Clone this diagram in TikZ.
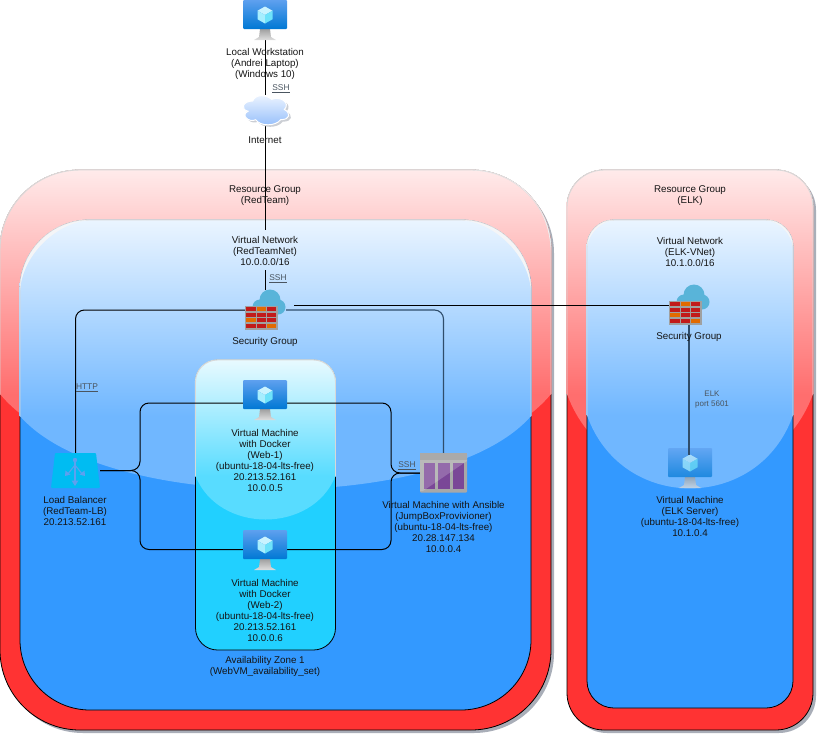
\documentclass[tikz,border=0pt]{standalone}
\usepackage{fontspec}
\setmainfont{Liberation Sans}
\definecolor{redbox}{HTML}{FF3333}
\definecolor{bluebox}{HTML}{3399FF}
\definecolor{cyanbox}{HTML}{21D0FF}
\definecolor{redtop}{HTML}{FFEBEB}
\definecolor{redbot}{HTML}{FF6E6E}
\definecolor{bluetop}{HTML}{EBF5FF}
\definecolor{bluebot}{HTML}{70B7FF}
\definecolor{cyantop}{HTML}{E9FAFF}
\definecolor{cyanbot}{HTML}{58DCFF}
\definecolor{rimcol}{HTML}{D8D8D8}
\definecolor{crescent}{HTML}{F4F5F7}
\definecolor{shadowcol}{HTML}{A9AEB8}
\definecolor{labelcol}{HTML}{141414}
\definecolor{protocol}{HTML}{4A5560}
\definecolor{veiled}{HTML}{2F4D6B}
\definecolor{brickred}{HTML}{C21A1A}
\definecolor{brickor}{HTML}{E26A00}
\definecolor{wallgrey}{HTML}{A0A0A0}
\definecolor{cloudblue}{HTML}{59B4D9}
\definecolor{screentop}{HTML}{5EA0EF}
\definecolor{screenbot}{HTML}{0078D4}
\definecolor{cubetop}{HTML}{C9F3FF}
\definecolor{cubeleft}{HTML}{A6EEFF}
\definecolor{cuberight}{HTML}{6EE2FA}
\definecolor{lbfill}{HTML}{00BCF2}
\definecolor{lbarrow}{HTML}{5EA0EF}
\definecolor{ansbody}{HTML}{A8A8A8}
\definecolor{anstop}{HTML}{959595}
\definecolor{ansbar}{HTML}{7A4797}
\definecolor{inettop}{HTML}{EEF5FF}
\definecolor{inetbot}{HTML}{94BEFB}
\tikzset{
  lbl/.style={font=\fontsize{9.8}{11}\selectfont,align=center,inner sep=0pt,text=labelcol},
  proto/.style={font=\fontsize{8.4}{10}\selectfont,align=center,inner sep=0pt,text=protocol},
  iconbox/.style={inner sep=0pt,outer sep=0pt,rectangle},
  wire/.style={draw=black,line width=1pt,rounded corners=9pt},
  veiledwire/.style={draw=veiled,line width=1.1pt,rounded corners=9pt},
}
% x y w h r fill top bot
\newcommand{\glassbox}[8]{%
  \pgfmathsetmacro{\gx}{#1}\pgfmathsetmacro{\gy}{#2}%
  \pgfmathsetmacro{\gr}{#1+#3}\pgfmathsetmacro{\gb}{#2+#4}%
  \pgfmathsetmacro{\gk}{#2+0.4*#4}\pgfmathsetmacro{\gc}{#2+0.6*#4}%
  \pgfmathsetmacro{\gm}{#2+0.56*#4}%
  \pgfmathsetmacro{\gp}{#1+#3*5/6}\pgfmathsetmacro{\gq}{#1+#3/6}%
  \draw[fill=#6,draw=black,line width=0.8pt,rounded corners=#5pt] (\gx,\gy) rectangle (\gr,\gb);
  \begin{scope}
    \clip (\gr+1,\gy-1) -- (\gx-1,\gy-1) -- (\gx-1,\gk) -- (\gx,\gk) .. controls (\gq,\gc) and (\gp,\gc) .. (\gr,\gk) -- (\gr+1,\gk) -- cycle;
    \begin{scope}
      \pgfmathsetmacro{\gR}{#5+0.6}%
      \clip[rounded corners=\gR pt] (\gx-0.6,\gy-0.6) rectangle (\gr+0.6,\gb+0.6);
      \shade[top color=#7,bottom color=#8] (\gx-1,\gy-1) rectangle (\gr+1,\gk);
      \fill[#8] (\gx-1,\gk-0.2) rectangle (\gr+1,\gm);
      \draw[draw=rimcol,line width=0.9pt,rounded corners=#5pt] (\gx,\gy) rectangle (\gr,\gb);
    \end{scope}
  \end{scope}
}
% monitor: centre x, top y
\newcommand{\monitor}[2]{%
  \begin{scope}[shift={(#1,#2)}]
    \shade[top color=gray!75,bottom color=gray!25] (-5,29) -- (5,29) -- (6,37) -- (11,40) -- (-11,40) -- (-6,37) -- cycle;
    \shade[top color=screentop,bottom color=screenbot,rounded corners=1pt] (-22,0) rectangle (22,29);
    \begin{scope}[shift={(0,15)}]
      \fill[cubetop] (0,-8.5) -- (7.5,-4.3) -- (0,0) -- (-7.5,-4.3) -- cycle;
      \fill[cubeleft] (-7.5,-4.3) -- (0,0) -- (0,8.5) -- (-7.5,4.3) -- cycle;
      \fill[cuberight] (7.5,-4.3) -- (0,0) -- (0,8.5) -- (7.5,4.3) -- cycle;
    \end{scope}
  \end{scope}
}
% firewall: wall left x, wall top y
\newcommand{\firewall}[2]{%
  \begin{scope}[shift={(#1,#2)}]
    \fill[cloudblue] (25,-6) circle (10.5) (15,1) circle (7.5) (33,1) circle (7.5);
    \fill[wallgrey] (0,0) rectangle (32.5,23.5);
    \foreach \row/\ca/\cb/\cc in {0/brickred/brickor/brickred,1/brickred/brickred/brickred,2/brickor/brickred/brickred,3/brickred/brickred/brickor}{
      \pgfmathsetmacro{\ry}{1.3+\row*5.5}
      \fill[\ca] (1.3,\ry) rectangle (10.5,\ry+3.9);
      \fill[\cb] (12,\ry) rectangle (20.5,\ry+3.9);
      \fill[\cc] (22,\ry) rectangle (31.2,\ry+3.9);
    }
  \end{scope}
}
\begin{document}
\begin{tikzpicture}[x=1pt,y=-1pt]
\useasboundingbox (0,0) rectangle (825,742);
% shadows
\fill[shadowcol,rounded corners=80pt] (3,173) rectangle (554,733);
\fill[shadowcol,rounded corners=37pt] (570,173) rectangle (816,733);
% boxes
\glassbox{0}{170}{551}{560}{80}{redbox}{redtop}{redbot}
\fill[crescent] (471,170) .. controls (515,170) and (551,206) .. (551,250) .. controls (548,205) and (520,172) .. (471,170) -- cycle;
\glassbox{20}{220}{511}{490}{70}{bluebox}{bluetop}{bluebot}
\fill[crescent] (20,290) .. controls (20,251.3) and (51.3,220) .. (90,220) .. controls (55,223) and (23,255) .. (20,290) -- cycle;
\fill[crescent] (531,290) .. controls (531,251.3) and (499.7,220) .. (461,220) .. controls (496,223) and (528,255) .. (531,290) -- cycle;
\glassbox{195.5}{360}{140}{290}{22}{cyanbox}{cyantop}{cyanbot}
\glassbox{567}{170}{246}{560}{37}{redbox}{redtop}{redbot}
\glassbox{587}{220}{206}{488}{27}{bluebox}{bluetop}{bluebot}
\fill[crescent] (587,247) .. controls (587,232) and (599,220) .. (614,220) .. controls (601,221.5) and (589,233) .. (587,247) -- cycle;
\fill[crescent] (793,247) .. controls (793,232) and (781,220) .. (766,220) .. controls (779,221.5) and (791,233) .. (793,247) -- cycle;
% anchors for the icons
\node[iconbox,minimum width=44pt,minimum height=40pt] (ws) at (265.5,20) {};
\node[iconbox,minimum width=47pt,minimum height=30pt] (inet) at (265.5,110) {};
\node[iconbox,minimum width=41pt,minimum height=40pt] (sgr) at (265.5,310) {};
\node[iconbox,minimum width=40pt,minimum height=40pt] (sge) at (689,305) {};
\node[iconbox,minimum width=49pt,minimum height=35pt] (lb) at (75.5,470.5) {};
\node[iconbox,minimum width=44pt,minimum height=40pt] (web1) at (265,403) {};
\node[iconbox,minimum width=44pt,minimum height=40pt] (web2) at (265,549.5) {};
\node[iconbox,minimum width=47pt,minimum height=40pt] (ans) at (443.5,473) {};
\node[iconbox,minimum width=44pt,minimum height=30pt] (evm) at (689,470) {};
\coordinate (gapa) at (265.5,230);
\coordinate (gapb) at (265.5,270);
\coordinate (busl) at (140,470.5);
\coordinate (busr) at (391,473);
\coordinate (sglink) at (294,305);
% elk vm under its connector
\begin{scope}[opacity=.72]\monitor{690}{448}\end{scope}
% connectors
\draw[wire] (ws.south) -- (inet.north);
\draw[wire] (inet.south) -- (gapa);
\draw[wire] (gapb) -- (sgr.north);
\draw[wire] (lb.north) |- (sgr.west);
\draw[veiledwire] (sgr.east) -| (ans.north);
\draw[wire] (sglink) -- (sge.west);
\draw[veiledwire] (sge.south) -- (evm.north);
\draw[wire] (lb.east) -- (busl) |- (web1.west);
\draw[wire] (lb.east) -- (busl) |- (web2.west);
\draw[wire] (ans.west) -- (busr) |- (web1.east);
\draw[wire] (ans.west) -- (busr) |- (web2.east);
% icons
\monitor{265}{0}
\monitor{265}{380}
\monitor{265}{530}
\firewall{245}{306}
\firewall{669}{301}
% internet cloud
\begin{scope}[shift={(240,92.5)},xscale=1.08]
  \fill[shadowcol!60] ({0.25*47+2},{0.25*34+2}) .. controls ({0.05*47+2},{0.25*34+2}) and ({2},{0.5*34+2}) .. ({0.16*47+2},{0.55*34+2}) .. controls ({2},{0.66*34+2}) and ({0.18*47+2},{0.9*34+2}) .. ({0.31*47+2},{0.8*34+2}) .. controls ({0.4*47+2},{34+2}) and ({0.7*47+2},{34+2}) .. ({0.8*47+2},{0.8*34+2}) .. controls ({47+2},{0.8*34+2}) and ({47+2},{0.6*34+2}) .. ({0.875*47+2},{0.5*34+2}) .. controls ({47+2},{0.3*34+2}) and ({0.8*47+2},{0.1*34+2}) .. ({0.625*47+2},{0.2*34+2}) .. controls ({0.5*47+2},{0.05*34+2}) and ({0.3*47+2},{0.05*34+2}) .. ({0.25*47+2},{0.25*34+2}) -- cycle;
  \shade[top color=inettop,bottom color=inetbot,draw=white,line width=1pt] ({0.25*47},{0.25*34}) .. controls ({0.05*47},{0.25*34}) and (0,{0.5*34}) .. ({0.16*47},{0.55*34}) .. controls (0,{0.66*34}) and ({0.18*47},{0.9*34}) .. ({0.31*47},{0.8*34}) .. controls ({0.4*47},34) and ({0.7*47},34) .. ({0.8*47},{0.8*34}) .. controls (47,{0.8*34}) and (47,{0.6*34}) .. ({0.875*47},{0.5*34}) .. controls (47,{0.3*34}) and ({0.8*47},{0.1*34}) .. ({0.625*47},{0.2*34}) .. controls ({0.5*47},{0.05*34}) and ({0.3*47},{0.05*34}) .. ({0.25*47},{0.25*34}) -- cycle;
\end{scope}
% load balancer
\fill[lbfill,rounded corners=1pt] (55,453) -- (96,453) -- (100,488) -- (51,488) -- cycle;
\begin{scope}[draw=lbarrow,fill=lbarrow,line width=1.1pt]
  \fill[lbarrow] (75,460) circle (2.2);
  \draw (75,460) -- (75,483);
  \draw (75,465) -- (67,475);
  \draw (75,465) -- (83,475);
  \fill[lbarrow] (75,486) -- (71.5,480.5) -- (78.5,480.5) -- cycle;
  \fill[lbarrow] (65,476) -- (65.5,470.5) -- (70.5,474.5) -- cycle;
  \fill[lbarrow] (85,476) -- (84.5,470.5) -- (79.5,474.5) -- cycle;
\end{scope}
% ansible
\fill[ansbody,rounded corners=1pt] (420,453) rectangle (467,492.5);
\fill[anstop] (420,453) rectangle (467,460);
\fill[ansbar] (423.5,463) rectangle (435,489);
\fill[ansbar] (438,463) rectangle (449.5,489);
\fill[ansbar] (452.5,463) rectangle (464,489);
\fill[white,opacity=.2] (420,453) -- (467,453) -- (467,461) -- (423,491) -- (420,491) -- cycle;
% labels
\node[lbl] (tws) at (265,63.5) {Local Workstation\\(Andrei Laptop)\\(Windows 10)};
\node[proto] (tssh1) at (281,88.5) {\underline{SSH}};
\node[lbl] (tinet) at (265,140) {Internet};
\node[lbl] (trg1) at (265,196) {Resource Group\\(RedTeam)};
\node[lbl] (tvn1) at (265,251) {Virtual Network\\(RedTeamNet)\\10.0.0.0/16};
\node[proto] (tssh2) at (278,278.5) {\underline{SSH}};
\node[lbl] (tsg1) at (265,342) {Security Group};
\node[proto] (thttp) at (87,387.5) {\underline{HTTP}};
\node[lbl] (tlb) at (75,511) {Load Balancer\\(RedTeam-LB)\\20.213.52.161};
\node[lbl] (tw1) at (265,460) {Virtual Machine\\with Docker\\(Web-1)\\(ubuntu-18-04-lts-free)\\20.213.52.161\\10.0.0.5};
\node[lbl] (tw2) at (265,610) {Virtual Machine\\with Docker\\(Web-2)\\(ubuntu-18-04-lts-free)\\20.213.52.161\\10.0.0.6};
\node[lbl] (taz) at (265,666) {Availability Zone 1\\(WebVM\_availability\_set)};
\node[proto] (tssh3) at (407,465.5) {\underline{SSH}};
\node[lbl] (tans) at (443.5,527) {Virtual Machine with Ansible\\(JumpBoxProvivioner)\\(ubuntu-18-04-lts-free)\\20.28.147.134\\10.0.0.4};
\node[lbl] (trg2) at (690,196) {Resource Group\\(ELK)};
\node[lbl] (tvn2) at (690,252) {Virtual Network\\(ELK-VNet)\\10.1.0.0/16};
\node[lbl] (tsg2) at (689,337) {Security Group};
\node[proto,font=\fontsize{8}{10}\selectfont] (telk) at (712,400) {ELK\\port 5601};
\node[lbl] (tevm) at (690,516.5) {Virtual Machine\\(ELK Server)\\(ubuntu-18-04-lts-free)\\10.1.0.4};
\end{tikzpicture}
\end{document}
